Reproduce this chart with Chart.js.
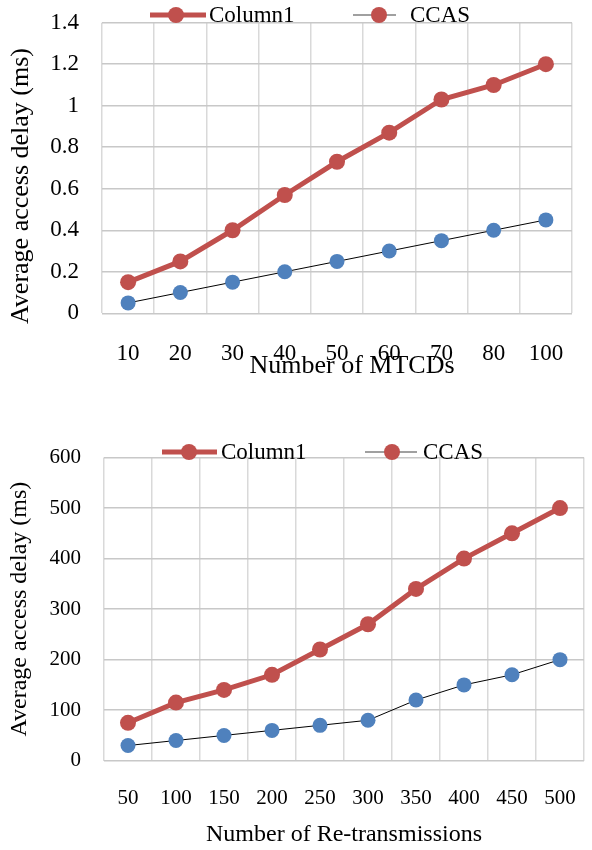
<!DOCTYPE html>
<html>
<head>
<meta charset="utf-8">
<script src="https://cdn.jsdelivr.net/npm/chart.js@4.4.1/dist/chart.umd.min.js"></script>
<style>
  html, body { margin: 0; padding: 0; background: #fff; }
  #wrap { position: relative; width: 592px; height: 850px; }
  .box { position: absolute; left: 0; width: 592px; }
</style>
</head>
<body>
<div id="wrap">
  <div class="box" style="top:0;height:400px"><canvas id="topChart"></canvas></div>
  <div class="box" style="top:430px;height:420px"><canvas id="botChart"></canvas></div>
</div>
<script>
// Chart 1: delay vs number of MTCDs
const mtcdLabels = ['10', '20', '30', '40', '50', '60', '70', '80', '100'];
const mtcdColumn1 = [0.15, 0.25, 0.40, 0.57, 0.73, 0.87, 1.03, 1.10, 1.20];
const mtcdCcas = [0.05, 0.10, 0.15, 0.20, 0.25, 0.30, 0.35, 0.40, 0.45];

// Chart 2: delay vs number of re-transmissions
const retxLabels = ['50', '100', '150', '200', '250', '300', '350', '400', '450', '500'];
const retxColumn1 = [75, 115, 140, 170, 220, 270, 340, 400, 450, 500];
const retxCcas = [30, 40, 50, 60, 70, 80, 120, 150, 170, 200];

const RED = '#C0504D';
const BLUE = '#4F81BD';
const SERIF = "'Liberation Serif', 'Times New Roman', serif";

// legend (and the odd-placed titles of chart 1) drawn by hand, Excel style
const excelLegend = {
  id: 'excelLegend',
  afterDraw(chart, args, opts) {
    const ctx = chart.ctx;
    ctx.save();
    opts.items.forEach(it => {
      ctx.beginPath();
      ctx.strokeStyle = it.lineColor;
      ctx.lineWidth = it.lineWidth;
      ctx.moveTo(it.x0, opts.y);
      ctx.lineTo(it.x1, opts.y);
      ctx.stroke();
      ctx.beginPath();
      ctx.fillStyle = RED;
      ctx.arc(it.mx, opts.y, 8, 0, Math.PI * 2);
      ctx.fill();
      ctx.fillStyle = '#000';
      ctx.font = '23px ' + SERIF;
      ctx.textBaseline = 'middle';
      ctx.textAlign = 'left';
      ctx.fillText(it.text, it.tx, opts.y + 1);
    });
    (opts.titles || []).forEach(t => {
      ctx.save();
      ctx.translate(t.x, t.y);
      ctx.rotate(t.rot || 0);
      ctx.fillStyle = '#000';
      ctx.font = t.size + 'px ' + SERIF;
      ctx.textAlign = 'center';
      ctx.textBaseline = 'middle';
      ctx.fillText(t.text, 0, 0);
      ctx.restore();
    });
    ctx.restore();
  }
};

function makeChart(id, labels, col1, ccas, yMax, yStep, s, legend) {
  return new Chart(document.getElementById(id), {
    type: 'line',
    data: {
      labels: labels,
      datasets: [{
        label: 'Column1',
        data: col1,
        borderColor: RED,
        backgroundColor: RED,
        borderWidth: 5,
        pointRadius: 8,
        pointHoverRadius: 8,
        pointBorderWidth: 0,
        tension: 0
      }, {
        label: 'CCAS',
        data: ccas,
        borderColor: '#000',
        backgroundColor: BLUE,
        borderWidth: 1,
        pointRadius: 7.5,
        pointHoverRadius: 7.5,
        pointBorderWidth: 0,
        tension: 0
      }]
    },
    options: {
      responsive: true,
      maintainAspectRatio: false,
      animation: false,
      events: [],
      layout: { padding: { top: s.top, right: s.right, bottom: 0, left: 0 } },
      plugins: {
        legend: { display: false },
        tooltip: { enabled: false },
        excelLegend: legend
      },
      scales: {
        x: {
          offset: true,
          grid: { offset: true, color: '#d9d9d9', lineWidth: 1.5, drawTicks: false },
          border: { display: false },
          ticks: {
            color: '#000',
            font: { family: SERIF, size: s.tickSize },
            padding: s.xTickPad,
            maxRotation: 0,
            autoSkip: false
          },
          title: {
            display: !!s.xTitle,
            text: s.xTitle,
            color: '#000',
            font: { family: SERIF, size: 24 },
            padding: { top: 0, bottom: s.xTitlePad }
          },
          afterFit(scale) {
            scale.height = s.xHeight;
            scale.paddingLeft = 0;
            scale.paddingRight = 0;
          }
        },
        y: {
          min: 0,
          max: yMax,
          grid: { color: '#c8c8c8', lineWidth: 1.5, drawTicks: false },
          border: { display: false },
          ticks: {
            stepSize: yStep,
            color: '#000',
            font: { family: SERIF, size: s.tickSize },
            padding: 23,
            callback: v => String(+v.toFixed(1))
          },
          title: {
            display: !!s.yTitle,
            text: s.yTitle,
            color: '#000',
            font: { family: SERIF, size: 24 },
            padding: { top: 5.6, bottom: 0 }
          },
          afterFit(scale) {
            scale.width = s.yWidth;
            scale.paddingTop = 0;
            scale.paddingBottom = 0;
          }
        }
      }
    },
    plugins: [excelLegend]
  });
}

makeChart('topChart', mtcdLabels, mtcdColumn1, mtcdCcas, 1.4, 0.2, {
  top: 22.7, right: 20, xHeight: 86.7, yWidth: 102, tickSize: 23,
  xTickPad: 26.9, xTitle: '', yTitle: ''
}, {
  y: 15,
  items: [
    { text: 'Column1', x0: 150, x1: 206, mx: 176, tx: 209, lineColor: RED, lineWidth: 5 },
    { text: 'CCAS', x0: 353, x1: 396, mx: 379, tx: 410, lineColor: '#808080', lineWidth: 1.5 }
  ],
  titles: [
    { text: 'Number of MTCDs', x: 352, y: 366, size: 26 },
    { text: 'Average access delay (ms)', x: 21, y: 186, size: 26, rot: -Math.PI / 2 }
  ]
});

makeChart('botChart', retxLabels, retxColumn1, retxCcas, 600, 100, {
  top: 27.5, right: 0, xHeight: 89.3, yWidth: 104, tickSize: 21,
  xTickPad: 24.7, xTitlePad: 0.6,
  xTitle: 'Number of Re-transmissions', yTitle: 'Average access delay (ms)'
}, {
  y: 22,
  items: [
    { text: 'Column1', x0: 162, x1: 217, mx: 189, tx: 221, lineColor: RED, lineWidth: 5 },
    { text: 'CCAS', x0: 365, x1: 417, mx: 392, tx: 423, lineColor: '#808080', lineWidth: 1.5 }
  ]
});
</script>
</body>
</html>
